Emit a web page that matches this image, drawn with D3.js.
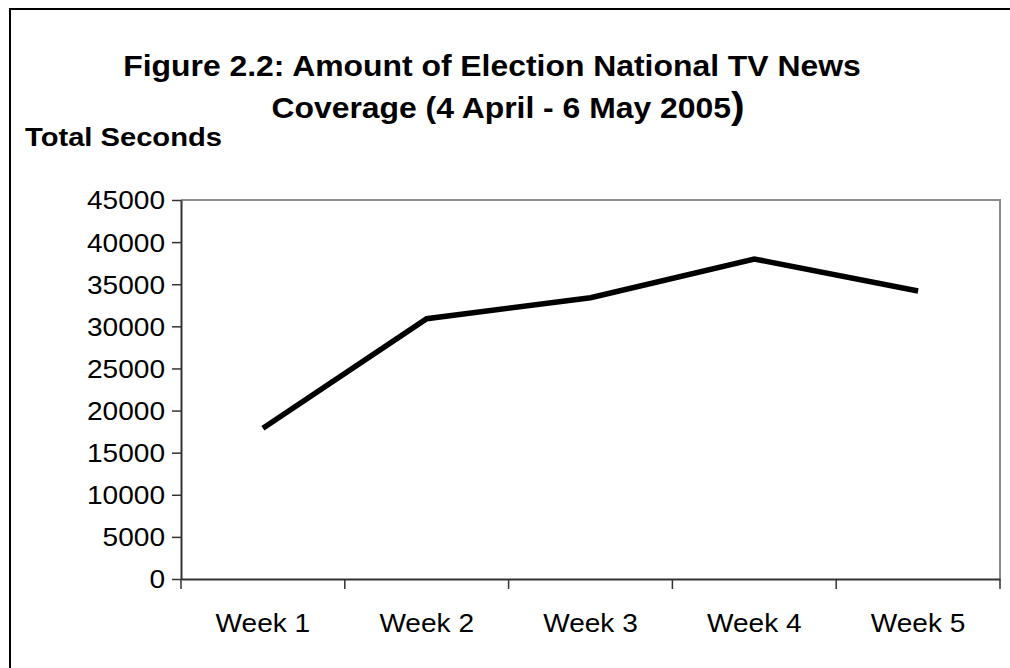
<!DOCTYPE html>
<html>
<head>
<meta charset="utf-8">
<script src="https://cdn.jsdelivr.net/npm/d3@7"></script>
<style>
  html, body { margin: 0; padding: 0; background: #fff; overflow: hidden; }
  svg { display: block; }
  text { font-family: "Liberation Sans", Arial, sans-serif; fill: #000; }
</style>
</head>
<body>
<div id="chart"></div>
<script>
const weeks = ['Week 1', 'Week 2', 'Week 3', 'Week 4', 'Week 5'];
const totalSeconds = [17900, 30900, 33400, 38000, 34200];
const yTicks = [0, 5000, 10000, 15000, 20000, 25000, 30000, 35000, 40000, 45000];

const width = 1010;
const height = 668;
const margin = { top: 200, right: 10, bottom: 89, left: 181 };
const stretch = 1.1; // text in the original is a little wider than tall

const svg = d3.select('#chart')
  .append('svg')
  .attr('width', width)
  .attr('height', height);

// outer frame: only the left and top edges fall inside the picture
svg.append('path')
  .attr('d', `M10,${height}V9H${width}`)
  .attr('fill', 'none')
  .attr('stroke', '#000')
  .attr('stroke-width', 2);

const x = d3.scaleBand()
  .domain(weeks)
  .range([margin.left, width - margin.right]);

const y = d3.scaleLinear()
  .domain([0, 45000])
  .range([height - margin.bottom, margin.top]);

// plot frame top and right
svg.append('path')
  .attr('d', `M${margin.left},${y(45000)}H${x.range()[1]}V${y(0)}`)
  .attr('fill', 'none')
  .attr('stroke', '#8c8c8c')
  .attr('stroke-width', 2);

// y axis
const yAxis = svg.append('g')
  .attr('transform', `translate(${margin.left},0)`)
  .call(d3.axisLeft(y).tickValues(yTicks).tickSize(9).tickSizeOuter(0).tickFormat(d3.format('d')));
yAxis.select('.domain').attr('stroke', '#333').attr('stroke-width', 2);
yAxis.selectAll('.tick line').attr('stroke', '#333').attr('stroke-width', 1.5);
yAxis.selectAll('.tick text').remove();
yAxis.selectAll('.tick').append('text')
  .attr('transform', `translate(-16,0) scale(${stretch},1)`)
  .attr('text-anchor', 'end')
  .attr('dy', '0.35em')
  .attr('font-size', 25.5)
  .text(d => d);

// x axis, ticks on band edges
const xAxis = svg.append('g')
  .attr('transform', `translate(0,${y(0)})`)
  .call(d3.axisBottom(x).tickSize(0).tickSizeOuter(0));
xAxis.select('.domain').attr('stroke', '#333').attr('stroke-width', 2);
xAxis.selectAll('.tick text').remove();
xAxis.selectAll('.tick').append('text')
  .attr('transform', `translate(0,53) scale(${stretch},1)`)
  .attr('text-anchor', 'middle')
  .attr('font-size', 25.5)
  .text(d => d);
xAxis.selectAll('line.edge')
  .data(weeks.map(w => x(w)).concat([x.range()[1]]))
  .join('line')
  .attr('class', 'edge')
  .attr('x1', d => d).attr('x2', d => d)
  .attr('y1', 0).attr('y2', 10)
  .attr('stroke', '#333')
  .attr('stroke-width', 1.5);

// the series
const line = d3.line()
  .x((d, i) => x(weeks[i]) + x.bandwidth() / 2)
  .y(d => y(d));

svg.append('path')
  .datum(totalSeconds)
  .attr('d', line)
  .attr('fill', 'none')
  .attr('stroke', '#000')
  .attr('stroke-width', 5.5);

// titles
svg.append('text')
  .attr('transform', `translate(492,76) scale(${stretch},1)`)
  .attr('text-anchor', 'middle')
  .attr('font-size', 29)
  .attr('font-weight', 'bold')
  .text('Figure 2.2: Amount of Election National TV News');

const t2 = svg.append('text')
  .attr('transform', `translate(508,118) scale(${stretch},1)`)
  .attr('text-anchor', 'middle')
  .attr('font-size', 29)
  .attr('font-weight', 'bold');
t2.append('tspan').text('Coverage (4 April - 6 May 2005');
t2.append('tspan').attr('font-size', 37).text(')');

svg.append('text')
  .attr('transform', `translate(25,146) scale(${stretch},1)`)
  .attr('font-size', 26.5)
  .attr('font-weight', 'bold')
  .text('Total Seconds');
</script>
</body>
</html>
